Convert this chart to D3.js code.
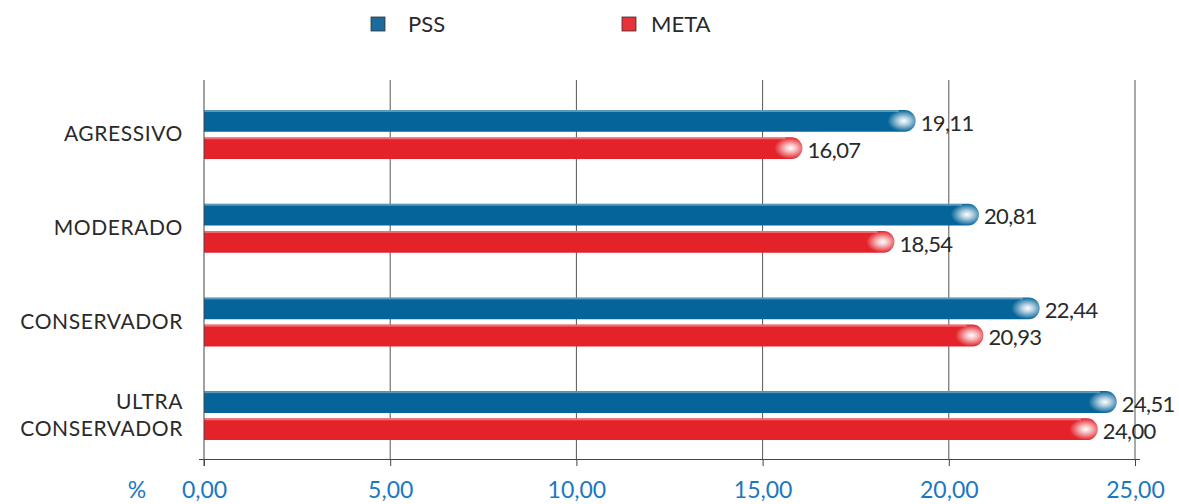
<!DOCTYPE html>
<html>
<head>
<meta charset="utf-8">
<script src="https://cdn.jsdelivr.net/npm/d3@7"></script>
<style>
  html, body { margin: 0; padding: 0; background: #fff; }
  svg { display: block; font-family: Lato, "Open Sans", sans-serif; }
</style>
</head>
<body>
<svg id="chart" width="1179" height="504"></svg>
<script>
// Profiles and returns (%)
const categories = ["AGRESSIVO", "MODERADO", "CONSERVADOR", "ULTRA CONSERVADOR"];
const seriesNames = ["PSS", "META"];
const pssValues = [19.11, 20.81, 22.44, 24.51];
const metaValues = [16.07, 18.54, 20.93, 24.00];
const tickValues = [0, 5, 10, 15, 20, 25];
const categoryLines = [["AGRESSIVO"], ["MODERADO"], ["CONSERVADOR"], ["ULTRA", "CONSERVADOR"]];

const colors = { PSS: "#05659a", META: "#e3222a" };
const fmt = v => v.toFixed(2).replace(".", ",");

const svg = d3.select("#chart");
const defs = svg.append("defs");

// Glossy highlight near the bar tips
seriesNames.forEach(name => {
  const g = defs.append("radialGradient").attr("id", "glow-" + name)
    .attr("cx", "50%").attr("cy", "50%").attr("r", "50%");
  g.append("stop").attr("offset", "0%").attr("stop-color", "#ffffff").attr("stop-opacity", 1);
  g.append("stop").attr("offset", "35%").attr("stop-color", "#ffffff").attr("stop-opacity", 0.7);
  g.append("stop").attr("offset", "100%").attr("stop-color", "#ffffff").attr("stop-opacity", 0);
});

const axisY = 459;

const x = d3.scaleLinear().domain([0, 25]).range([204, 1135]);
const y = d3.scaleBand().domain(categories).range([89, 89 + 4 * 93.7]);
const inner = d3.scaleBand().domain(seriesNames).range([0, 49]).paddingInner(0.2);

// Vertical grid lines
svg.append("g").selectAll("line").data(tickValues.slice(1)).join("line")
  .attr("x1", d => x(d)).attr("x2", d => x(d))
  .attr("y1", 80).attr("y2", axisY)
  .attr("stroke", "#555").attr("stroke-width", 1);

// Bars
const data = [];
categories.forEach((c, i) => {
  data.push({ cat: c, series: "PSS", value: pssValues[i] });
  data.push({ cat: c, series: "META", value: metaValues[i] });
});

const barH = inner.bandwidth();
const bars = svg.append("g").selectAll("g").data(data).join("g")
  .attr("transform", d => `translate(0,${y(d.cat) + 21 + inner(d.series)})`);

bars.append("path")
  .attr("d", d => {
    const x0 = x(0), x1 = x(d.value), r = barH / 2;
    return `M${x0},0 H${x1 - r} A${r},${r} 0 0 1 ${x1},${r} A${r},${r} 0 0 1 ${x1 - r},${barH} H${x0} Z`;
  })
  .attr("fill", d => colors[d.series]);

// Softer light rim along the top edge
bars.append("rect")
  .attr("x", x(0)).attr("y", 0)
  .attr("width", d => Math.max(0, x(d.value) - x(0) - barH / 2 - 6))
  .attr("height", 2)
  .attr("fill", "#ffffff").attr("opacity", 0.35);

bars.append("ellipse")
  .attr("cx", d => x(d.value) - barH / 2 - 1)
  .attr("cy", barH / 2)
  .attr("rx", barH * 0.75).attr("ry", barH * 0.5)
  .attr("fill", d => `url(#glow-${d.series})`);

// Value labels
bars.append("text")
  .attr("x", d => x(d.value) + 5)
  .attr("y", barH / 2 + 2)
  .attr("dy", "0.35em")
  .attr("font-size", 22).attr("letter-spacing", -0.6).attr("fill", "#2a2a2a")
  .text(d => fmt(d.value));

// Left axis line
svg.append("line").attr("x1", x(0)).attr("x2", x(0)).attr("y1", 80).attr("y2", 466)
  .attr("stroke", "#444").attr("stroke-width", 1);

// Bottom axis
const xAxis = d3.axisBottom(x).tickValues(tickValues).tickSize(7).tickFormat(fmt);
const ax = svg.append("g").attr("transform", `translate(0,${axisY})`).call(xAxis);
ax.select(".domain").attr("d", `M${x(0) - 5},0.5H${x(25) + 5}`).attr("stroke", "#444");
ax.selectAll(".tick line").attr("stroke", "#444");
ax.selectAll(".tick text").attr("font-size", 23).attr("fill", "#1a78c2")
  .attr("y", 39).attr("dy", 0).attr("font-family", "Lato, 'Open Sans', sans-serif");
svg.append("text").attr("x", 137).attr("y", 498).attr("text-anchor", "middle")
  .attr("font-size", 23).attr("fill", "#1a78c2").text("%");

// Category labels
const catG = svg.append("g").selectAll("text").data(categories).join("text")
  .attr("text-anchor", "end").attr("font-size", 21).attr("fill", "#2a2a2a")
  .attr("letter-spacing", 0.6);
catG.each(function (d, i) {
  const lines = categoryLines[i];
  const cy = y(d) + 21 + 24;
  const t = d3.select(this);
  lines.forEach((ln, j) => {
    t.append("tspan").attr("x", 183)
      .attr("y", cy + (j - (lines.length - 1) / 2) * 27)
      .attr("dy", "0.35em").text(ln);
  });
});

// Legend
const legend = svg.append("g");
const legendPos = [{ name: "PSS", sx: 371, tx: 408 }, { name: "META", sx: 622, tx: 651 }];
legend.selectAll("rect").data(legendPos).join("rect")
  .attr("x", d => d.sx).attr("y", 17).attr("width", 14).attr("height", 14)
  .attr("fill", d => d.name === "PSS" ? "#1d6a9c" : "#e8323a")
  .attr("stroke", "#333").attr("stroke-width", 0.8);
legend.selectAll("text").data(legendPos).join("text")
  .attr("x", d => d.tx).attr("y", 24).attr("dy", "0.35em")
  .attr("font-size", 22).attr("fill", "#2a2a2a").text(d => d.name);
</script>
</body>
</html>
